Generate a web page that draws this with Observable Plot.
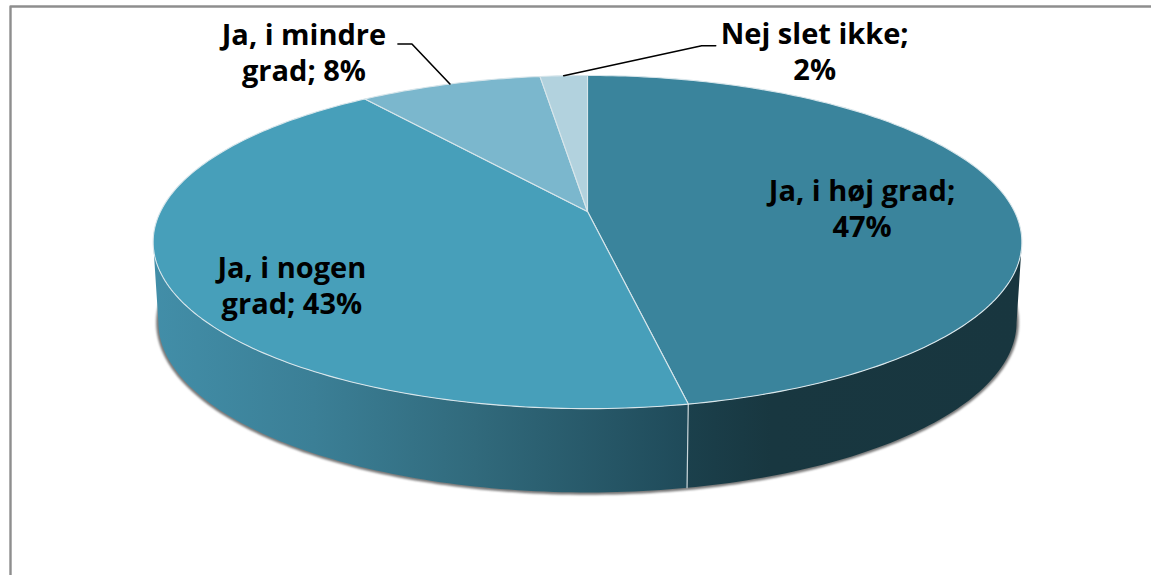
<!DOCTYPE html>
<html>
<head>
<meta charset="utf-8">
<script src="https://cdn.jsdelivr.net/npm/d3@7"></script>
<script src="https://cdn.jsdelivr.net/npm/@observablehq/plot@0.6"></script>
<style>
html,body{margin:0;padding:0;background:#fff;}
#chart{width:1151px;height:575px;overflow:hidden;}
svg{display:block;}
.rim-shadow{filter:blur(1.3px);}
</style>
</head>
<body>
<div id="chart"></div>
<script>
// Data
const categories = ["Ja, i høj grad", "Ja, i nogen grad", "Ja, i mindre grad", "Nej slet ikke"];
const shares = [46.9, 42.9, 8.1, 2.1];
const labelTexts = ["Ja, i høj grad;\n47%", "Ja, i nogen\ngrad; 43%", "Ja, i mindre\ngrad; 8%", "Nej slet ikke;\n2%"];

// Styling and layout
const topColors = ["#3a849c", "#479fba", "#7bb7cd", "#b2d2de"];
const W = 1151, H = 575;
const cx = 587, k = 0.1833;
const topRim = {a: 427, b: 161, y0: 211};
const baseRim = {a: 421.8, b: 164.3, y0: 290.8};
const labelOffset = [[-143, 11], [126, 2], [-146, -33], [251, -25]];
const leaderElbows = [null, null, [[-38, -40], [-52, -40]], [[138, -30], [152, -30]]];
const frame = {left: 10, top: 6, bottom: 600};

// Perspective projection of a pie fraction onto a rim
const project = (f, rim, r = 1) => {
  const t = 2 * Math.PI * f, u = r * Math.sin(t), v = r * Math.cos(t), d = 1 + k * v;
  return {x: cx + rim.a * u / d, y: rim.y0 - rim.b * v / d};
};
const arc = (f0, f1, rim) => {
  const n = Math.max(2, Math.ceil(Math.abs(f1 - f0) * 360));
  return d3.range(n + 1).map(i => project(f0 + (f1 - f0) * i / n, rim));
};

const total = d3.sum(shares);
let acc = 0;
const slices = categories.map((name, i) => {
  const start = acc / total; acc += shares[i];
  const end = acc / total;
  return {name, start, end, mid: (start + end) / 2, color: topColors[i], text: labelTexts[i]};
});

// Wall silhouette: where the rim turns back (cos t = -k)
const sil = Math.acos(-k) / (2 * Math.PI);
const front = slices[0].end;
const wallRight = [...arc(sil, front, topRim), ...arc(front, sil, baseRim)];
const wallLeft = [...arc(front, 1 - sil, topRim), ...arc(1 - sil, front, baseRim)];
const baseEdge = arc(sil - 0.02, 1 - sil + 0.02, baseRim);
const seam = [project(front, topRim), project(front, baseRim)];
const anchors = slices.map(s => {
  const p = project(s.mid, topRim);
  return {...p, s};
});
const labelData = slices.map((s, i) => ({
  x: anchors[i].x + labelOffset[i][0],
  y: anchors[i].y + labelOffset[i][1],
  text: s.text
}));
const leaders = leaderElbows.flatMap((el, i) => el ? [{
  pts: [anchors[i], ...el.map(([dx, dy]) => ({x: anchors[i].x + dx, y: anchors[i].y + dy}))]
}] : []);

const gradients = () => {
  const ns = "http://www.w3.org/2000/svg";
  const defs = document.createElementNS(ns, "defs");
  const make = (id, stops) => {
    const g = document.createElementNS(ns, "linearGradient");
    g.setAttribute("id", id);
    stops.forEach(([o, c]) => {
      const s = document.createElementNS(ns, "stop");
      s.setAttribute("offset", o); s.setAttribute("stop-color", c);
      g.appendChild(s);
    });
    defs.appendChild(g);
  };
  make("wallL", [[0, "#428ea8"], [0.3, "#3b7f96"], [0.6, "#316a7c"], [1, "#1f4a59"]]);
  make("wallR", [[0, "#1b404c"], [0.25, "#183740"], [1, "#18363f"]]);
  return defs;
};

const poly = (pts, o) => Plot.line(pts, {x: "x", y: "y", curve: "linear-closed", ...o});

const chart = Plot.plot({
  width: W, height: H,
  margin: 0,
  x: {domain: [0, W], range: [0, W], axis: null},
  y: {domain: [0, H], range: [0, H], axis: null},
  marks: [
    gradients,
    Plot.line([{x: frame.left, y: frame.bottom}, {x: frame.left, y: frame.top}, {x: W, y: frame.top}],
      {x: "x", y: "y", stroke: "#8e8e8e", strokeWidth: 2.4}),
    Plot.line(baseEdge, {x: "x", y: "y", stroke: "#777", strokeWidth: 4.5, className: "rim-shadow"}),
    poly(wallLeft, {fill: "url(#wallL)", stroke: "none"}),
    poly(wallRight, {fill: "url(#wallR)", stroke: "none"}),
    Plot.line(seam, {x: "x", y: "y", stroke: "#c9d6da", strokeWidth: 1.2}),
    ...slices.map(s => poly([project(0, {a: 0, b: 0, y0: topRim.y0}), ...arc(s.start, s.end, topRim)],
      {fill: s.color, stroke: "#d8e6eb", strokeWidth: 1.1})),
    ...leaders.map(l => Plot.line(l.pts, {x: "x", y: "y", stroke: "#000", strokeWidth: 1.6})),
    Plot.text(labelData, {
      x: "x", y: "y", text: "text", fill: "#000",
      fontFamily: "Open Sans", fontWeight: 700, fontSize: 29,
      lineHeight: 1.24, lineAnchor: "middle", textAnchor: "middle"
    })
  ]
});
document.getElementById("chart").appendChild(chart);
</script>
</body>
</html>
